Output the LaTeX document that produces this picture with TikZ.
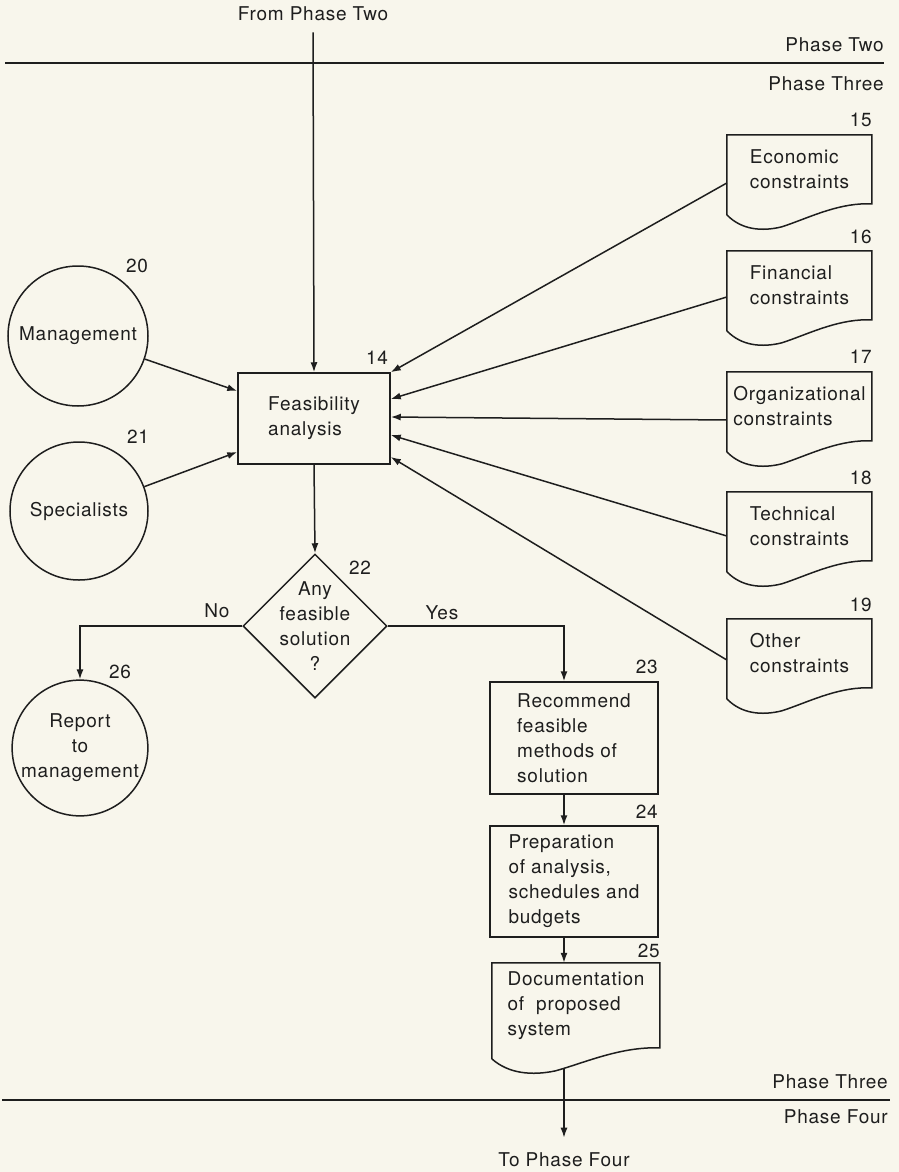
\documentclass[tikz,border=0pt]{standalone}
\usepackage{fontspec}
\setmainfont{TeX Gyre Heros}[LetterSpace=4]
\usetikzlibrary{shapes.geometric,arrows.meta}
\definecolor{paper}{RGB}{248,246,236}
\definecolor{ink}{RGB}{30,30,30}
\newcommand\docoutline[3]{%
  \draw[ln, line join=miter, shift={(#1.north west)}]
    (0,{#3+11}) -- (0,0) -- (#2,0) -- (#2,#3) -- ({#2-5},#3)
    .. controls ({0.75*#2},#3) and ({0.55*#2},{#3+15}) .. ({0.38*#2},{#3+23})
    .. controls ({0.24*#2},{#3+28}) and ({0.1*#2},{#3+26}) .. (0,{#3+11});
}
\begin{document}
\begin{tikzpicture}[x=1pt,y=-1pt,
  every node/.style={font=\fontsize{19}{25}\selectfont, text=ink},
  ln/.style={draw=ink, line width=1.5pt},
  arr/.style={ln, -{Latex[length=10pt,width=7pt]}},
  proc/.style={ln, rectangle, inner sep=0pt, align=left},
  circ/.style={ln, circle, inner sep=0pt, align=center},
  docnode/.style={rectangle, inner sep=0pt, align=left, minimum width=145pt, minimum height=69pt},
  num/.style={inner sep=0pt},
  phaseline/.style={draw=ink, line width=2pt},
]
\fill[paper] (0,0) rectangle (899,1172);
\useasboundingbox (0,0) rectangle (899,1172);

% phase boundaries
\draw[phaseline] (5,63) -- (884,63);
\draw[phaseline] (2,1100) -- (890,1100);
\node[num, anchor=east] (p2a) at (884,45) {Phase Two};
\node[num, anchor=east] (p3a) at (884,84) {Phase Three};
\node[num, anchor=east] (p3b) at (888,1082) {Phase Three};
\node[num, anchor=east] (p4b) at (888,1117) {Phase Four};
\node[num] (from) at (313,14) {From Phase Two};
\node[num] (to) at (564,1160) {To Phase Four};

% main process
\node[proc, minimum width=152pt, minimum height=91pt] (fb) at (314,418.5) {Feasibility\\analysis};
\node[num] (n14) at (377,358) {14};

% documents
\node[docnode] (d15) at (799.5,169.5) {Economic\\constraints};
\node[docnode] (d16) at (799.5,285.5) {Financial\\constraints};
\node[docnode] (d17) at (799.5,406.5) {Organizational\\constraints};
\node[docnode] (d18) at (799.5,526.5) {Technical\\constraints};
\node[docnode] (d19) at (799.5,653.5) {Other\\constraints};
\docoutline{d15}{145}{69}
\docoutline{d16}{145}{69}
\docoutline{d17}{145}{69}
\docoutline{d18}{145}{69}
\docoutline{d19}{145}{69}
\node[num, anchor=east] (n15) at (872,120) {15};
\node[num, anchor=east] (n16) at (872,237) {16};
\node[num, anchor=east] (n17) at (872,357) {17};
\node[num, anchor=east] (n18) at (872,478) {18};
\node[num, anchor=east] (n19) at (872,605) {19};

% circles
\node[circ, minimum size=140pt] (mg) at (78,336) {Management};
\node[circ, minimum size=138pt] (sp) at (79,511) {Specialists};
\node[circ, minimum size=132pt] (rp) at (80,748) {Report\\to\\management};
\node[num] (n20) at (137,266) {20};
\node[num] (n21) at (138,437) {21};
\node[num] (n26) at (120,672) {26};

% decision
\node[ln, diamond, shape aspect=1, minimum width=144pt, minimum height=144pt, inner sep=0pt,
  label={[align=center, inner sep=0pt]center:Any\\feasible\\solution\\?}] (dm) at (315,626) {};
\node[num] (n22) at (360,568) {22};
\node[num] (no) at (217,611) {No};
\node[num] (yes) at (442,613) {Yes};

% right column
\node[proc, minimum width=168pt, minimum height=112pt] (b23) at (574,738) {Recommend\\feasible\\methods of\\solution};
\node[proc, minimum width=168pt, minimum height=111pt] (b24) at (574,881.5) {Preparation\\of analysis,\\schedules and\\budgets};
\node[docnode, minimum width=168pt, minimum height=85pt] (d25) at (576,1005.5) {Documentation\\of~~proposed\\system};
\docoutline{d25}{168}{85}
\node[num, anchor=east] (n23) at (658,667) {23};
\node[num, anchor=east] (n24) at (658,812) {24};
\node[num, anchor=east] (n25) at (660,951) {25};
\coordinate (d25out) at (564,1069);

% connectors
\draw[arr] ([yshift=-11pt]from.south) -- (fb.north);
\draw[arr] ([yshift=-13.5pt]d15.west) -- (fb.north east);
\draw[arr] ([yshift=-11.5pt]d16.west) -- ([yshift=19.5pt]fb.east);
\draw[arr] ([yshift=-13.5pt]d17.west) -- ([yshift=1.5pt]fb.east);
\draw[arr] ([yshift=-9.5pt]d18.west) -- ([yshift=-16.5pt]fb.east);
\draw[arr] ([yshift=-6.5pt]d19.west) -- ([yshift=-38.5pt]fb.east);
\draw[arr] (mg) -- ([yshift=27.5pt]fb.west);
\draw[arr] (sp) -- ([yshift=-33.5pt]fb.west);
\draw[arr] (fb.south) -- (dm.north);
\draw[arr] (dm.west) -| (rp.north);
\draw[arr] (dm.east) -| ([xshift=-10pt]b23.north);
\draw[arr] ([xshift=-10pt]b23.south) -- ([xshift=-10pt]b24.north);
\draw[arr] ([xshift=-10pt]b24.south) -- ([xshift=-12pt]d25.north);
\draw[arr] (d25out) -- ([yshift=15pt]to.north);
\end{tikzpicture}
\end{document}
